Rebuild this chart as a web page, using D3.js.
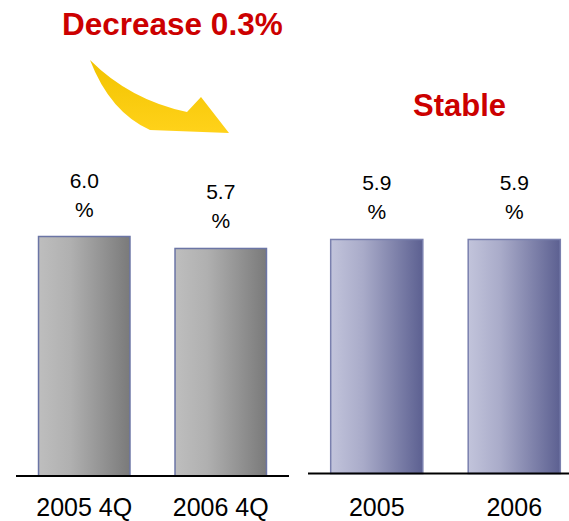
<!DOCTYPE html>
<html>
<head>
<meta charset="utf-8">
<script src="https://cdn.jsdelivr.net/npm/d3@7"></script>
<style>
html,body{margin:0;padding:0;background:#fff;}
svg{display:block;font-family:"Liberation Sans",Arial,sans-serif;}
</style>
</head>
<body>
<svg id="chart" width="569" height="521"></svg>
<script>
const leftCategories = ["2005 4Q", "2006 4Q"];
const leftValues = [6.0, 5.7];
const rightCategories = ["2005", "2006"];
const rightValues = [5.9, 5.9];
const leftTitle = "Decrease 0.3%";
const rightTitle = "Stable";

const svg = d3.select("#chart");
const defs = svg.append("defs");

const gGray = defs.append("linearGradient").attr("id", "gradGray").attr("x1", "0").attr("x2", "1").attr("y1", "0").attr("y2", "0");
gGray.append("stop").attr("offset", "0%").attr("stop-color", "#bebebe");
gGray.append("stop").attr("offset", "35%").attr("stop-color", "#b0b0b0");
gGray.append("stop").attr("offset", "100%").attr("stop-color", "#7a7a7a");

const gBlue = defs.append("linearGradient").attr("id", "gradBlue").attr("x1", "0").attr("x2", "1").attr("y1", "0").attr("y2", "0");
gBlue.append("stop").attr("offset", "0%").attr("stop-color", "#c2c4db");
gBlue.append("stop").attr("offset", "35%").attr("stop-color", "#a9abc9");
gBlue.append("stop").attr("offset", "100%").attr("stop-color", "#5c6091");

const gArrow = defs.append("linearGradient").attr("id", "gradArrow").attr("x1", "0").attr("x2", "0").attr("y1", "0").attr("y2", "1");
gArrow.append("stop").attr("offset", "0%").attr("stop-color", "#f2c300");
gArrow.append("stop").attr("offset", "100%").attr("stop-color", "#ffd21a");

function panel(cats, vals, xRange, baseY, topY, fillId, strokeCol) {
  const x = d3.scaleBand().domain(cats).range(xRange).paddingInner(0.33).paddingOuter(0.165);
  const y = d3.scaleLinear().domain([0, 6]).range([baseY, topY]);
  const g = svg.append("g");
  g.selectAll("rect").data(vals).join("rect")
    .attr("x", (d, i) => x(cats[i]))
    .attr("y", d => y(d))
    .attr("width", x.bandwidth())
    .attr("height", d => baseY - y(d))
    .attr("fill", `url(#${fillId})`)
    .attr("stroke", strokeCol)
    .attr("stroke-width", 1.5);
  g.append("line")
    .attr("x1", xRange[0]).attr("x2", xRange[1])
    .attr("y1", baseY).attr("y2", baseY)
    .attr("stroke", "#000").attr("stroke-width", 2);
  const lab = g.selectAll("text.val").data(vals).join("text")
    .attr("class", "val")
    .attr("text-anchor", "middle")
    .attr("font-size", 21)
    .attr("fill", "#000");
  lab.append("tspan")
    .attr("x", (d, i) => x(cats[i]) + x.bandwidth() / 2)
    .attr("y", d => y(d) - 49)
    .text(d => d.toFixed(1));
  lab.append("tspan")
    .attr("x", (d, i) => x(cats[i]) + x.bandwidth() / 2)
    .attr("y", d => y(d) - 20)
    .text("%");
  g.selectAll("text.cat").data(cats).join("text")
    .attr("class", "cat")
    .attr("text-anchor", "middle")
    .attr("font-size", 25)
    .attr("x", d => x(d) + x.bandwidth() / 2)
    .attr("y", 516)
    .attr("fill", "#000")
    .text(d => d);
}

panel(leftCategories, leftValues, [16, 289], 476, 236.5, "gradGray", "#6b75a5");
panel(rightCategories, rightValues, [308, 583], 473.5, 235.5, "gradBlue", "#7a80ae");

// arrow
svg.append("path")
  .attr("d", "M90,60 Q130,100 187,112 L201,97 L229,133 L150,130 Q110,112 90,60 Z")
  .attr("fill", "url(#gradArrow)");

svg.append("text")
  .attr("x", 62).attr("y", 35)
  .attr("font-size", 31.5).attr("font-weight", "bold")
  .attr("fill", "#cc0000")
  .text(leftTitle);
svg.append("text")
  .attr("x", 413).attr("y", 116)
  .attr("font-size", 31).attr("font-weight", "bold")
  .attr("fill", "#cc0000")
  .text(rightTitle);
</script>
</body>
</html>
